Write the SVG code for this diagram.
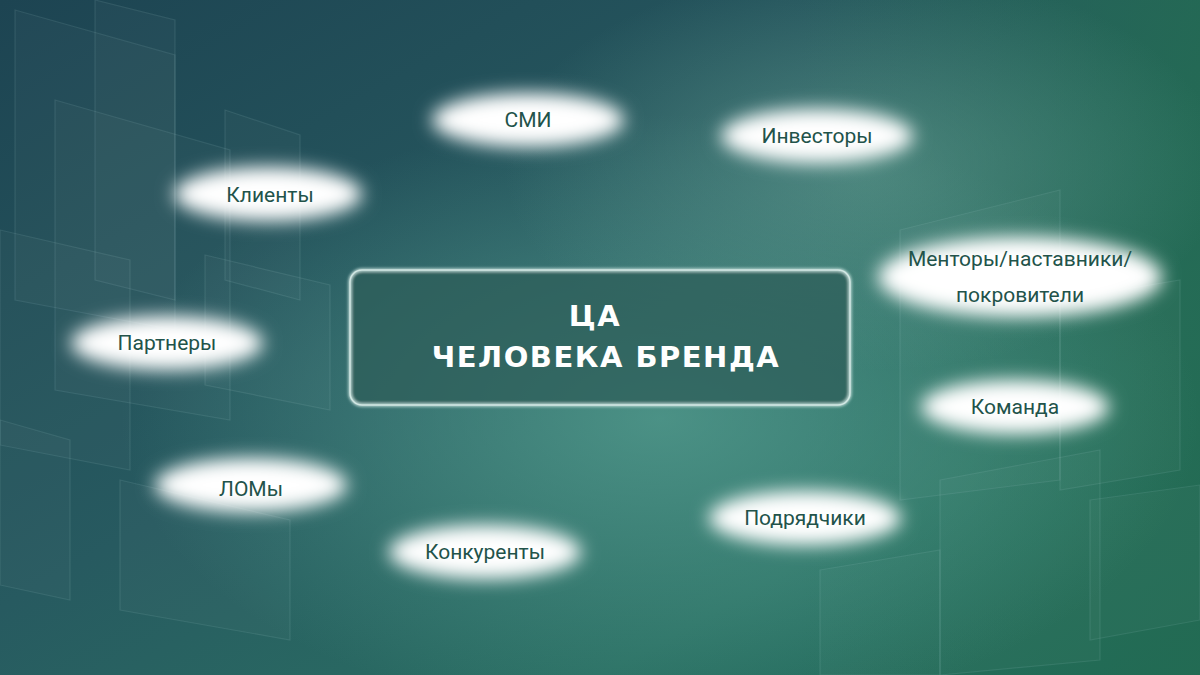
<svg xmlns="http://www.w3.org/2000/svg" width="1200" height="675" viewBox="0 0 1200 675">
<defs>
<linearGradient id="bg" x1="0" y1="0" x2="1" y2="1">
<stop offset="0" stop-color="#1d4452"/>
<stop offset="0.45" stop-color="#275a60"/>
<stop offset="0.75" stop-color="#2a6f63"/>
<stop offset="1" stop-color="#1f6a58"/>
</linearGradient>
<radialGradient id="glowC" cx="0.55" cy="0.62" r="0.45">
<stop offset="0" stop-color="#5aa595" stop-opacity="0.7"/>
<stop offset="1" stop-color="#5aa595" stop-opacity="0"/>
</radialGradient>
<radialGradient id="glowR" cx="0.72" cy="0.25" r="0.3">
<stop offset="0" stop-color="#6aa596" stop-opacity="0.55"/>
<stop offset="1" stop-color="#6aa596" stop-opacity="0"/>
</radialGradient>
<linearGradient id="rightGreen" x1="0" y1="0" x2="1" y2="0">
<stop offset="0" stop-color="#236b52" stop-opacity="0"/>
<stop offset="1" stop-color="#236b52" stop-opacity="0.8"/>
</linearGradient>
<filter id="blur" x="-30%" y="-60%" width="160%" height="220%">
<feGaussianBlur stdDeviation="9"/>
</filter>
<filter id="soft" x="-10%" y="-10%" width="120%" height="120%">
<feGaussianBlur stdDeviation="1.5"/>
</filter>
<style>
.blob{fill:#ffffff;filter:url(#blur)}
.lbl{font-family:Roboto,"Liberation Sans",sans-serif;font-size:21px;fill:#22534a;text-anchor:middle}
.ttl{font-family:"DejaVu Sans","Liberation Sans",sans-serif;font-weight:bold;font-size:29px;fill:#ffffff;text-anchor:middle;letter-spacing:1.5px}
.pane{fill:#ffffff;fill-opacity:0.025;stroke:#a9d2cf;stroke-opacity:0.13;stroke-width:1.2}
</style>
</defs>
<rect width="1200" height="675" fill="url(#bg)"/>
<rect x="800" width="400" height="675" fill="url(#rightGreen)"/>
<rect width="1200" height="675" fill="url(#glowC)"/>
<rect width="1200" height="675" fill="url(#glowR)"/>
<g id="background-panes">
<polygon class="pane" points="15,10 175,55 175,330 15,300"/>
<polygon class="pane" points="95,0 175,20 175,300 95,280"/>
<polygon class="pane" points="55,100 230,150 230,420 55,390"/>
<polygon class="pane" points="225,110 300,135 300,300 225,280"/>
<polygon class="pane" points="0,230 130,260 130,470 0,445"/>
<polygon class="pane" points="205,255 330,285 330,410 205,385"/>
<polygon class="pane" points="120,480 290,520 290,640 120,610"/>
<polygon class="pane" points="0,420 70,440 70,600 0,585"/>
<polygon class="pane" points="900,230 1060,190 1060,480 900,500"/>
<polygon class="pane" points="1060,300 1180,280 1180,470 1060,490"/>
<polygon class="pane" points="940,480 1100,450 1100,660 940,675"/>
<polygon class="pane" points="1090,500 1200,485 1200,620 1090,640"/>
<polygon class="pane" points="820,570 940,550 940,675 820,675"/>
</g>
<g id="connectors"/>
<g id="center">
<rect x="350" y="270" width="500" height="135" rx="12" fill="#2b5e5a" fill-opacity="0.75" stroke="#c8e3df" stroke-width="3" filter="url(#soft)"/>
<rect x="350" y="270" width="500" height="135" rx="12" fill="none" stroke="#dff0ec" stroke-opacity="0.8" stroke-width="1.5"/>
<text class="ttl" x="595" y="326">ЦА</text>
<text class="ttl" x="606" y="367">ЧЕЛОВЕКА БРЕНДА</text>
</g>
<g id="node-smi"><ellipse class="blob" cx="528" cy="120" rx="96" ry="27"/><text class="lbl" x="528" y="127">СМИ</text></g>
<g id="node-investors"><ellipse class="blob" cx="817" cy="136" rx="96" ry="27"/><text class="lbl" x="817" y="143">Инвесторы</text></g>
<g id="node-clients"><ellipse class="blob" cx="268" cy="194" rx="94" ry="27"/><text class="lbl" x="270" y="202">Клиенты</text></g>
<g id="node-mentors"><ellipse class="blob" cx="1020" cy="277" rx="142" ry="40"/><text class="lbl" x="1020" y="266">Менторы/наставники/</text><text class="lbl" x="1020" y="302">покровители</text></g>
<g id="node-partners"><ellipse class="blob" cx="167" cy="343" rx="96" ry="27"/><text class="lbl" x="167" y="350">Партнеры</text></g>
<g id="node-team"><ellipse class="blob" cx="1015" cy="407" rx="94" ry="27"/><text class="lbl" x="1015" y="414">Команда</text></g>
<g id="node-loms"><ellipse class="blob" cx="251" cy="485" rx="96" ry="27"/><text class="lbl" x="251" y="496">ЛОМы</text></g>
<g id="node-contractors"><ellipse class="blob" cx="805" cy="518" rx="96" ry="27"/><text class="lbl" x="805" y="525">Подрядчики</text></g>
<g id="node-competitors"><ellipse class="blob" cx="485" cy="552" rx="96" ry="27"/><text class="lbl" x="485" y="559">Конкуренты</text></g>
</svg>
